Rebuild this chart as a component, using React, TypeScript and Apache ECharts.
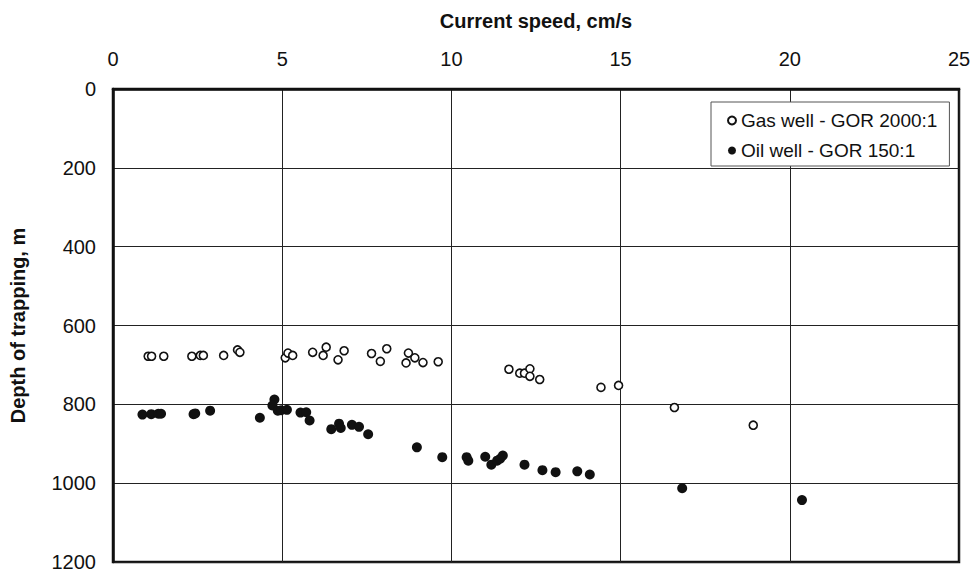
import React, { useEffect, useRef } from "react";
import * as echarts from "echarts";

const xTicks = [0, 5, 10, 15, 20, 25];
const yTicks = [0, 200, 400, 600, 800, 1000, 1200];

const gasSpeed = [1.04, 1.14, 1.5, 2.33, 2.58, 2.67, 3.27, 3.68, 3.75, 5.09, 5.17, 5.31, 5.9, 6.21, 6.3, 6.65, 6.83, 7.64, 7.9, 8.09, 8.66, 8.73, 8.92, 9.16, 9.61, 11.7, 12.02, 12.16, 12.32, 12.32, 12.61, 14.42, 14.94, 16.59, 18.92];
const gasDepth = [678, 678, 678, 678, 676, 676, 676, 662, 668, 682, 670, 676, 668, 676, 655, 687, 664, 671, 691, 659, 695, 670, 682, 694, 692, 711, 721, 721, 710, 729, 737, 757, 752, 808, 853];

const oilSpeed = [0.87, 1.13, 1.34, 1.42, 2.38, 2.43, 2.87, 4.34, 4.77, 4.71, 4.87, 4.97, 5.14, 5.54, 5.71, 5.81, 6.45, 6.68, 6.73, 7.06, 7.27, 7.54, 8.98, 9.73, 10.45, 10.5, 11.0, 11.18, 11.35, 11.44, 11.52, 12.16, 12.69, 13.08, 13.72, 14.09, 16.82, 20.36];
const oilDepth = [826, 825, 824, 824, 825, 823, 816, 834, 788, 803, 816, 815, 814, 821, 820, 841, 863, 849, 860, 852, 857, 876, 909, 934, 934, 943, 933, 953, 943, 938, 930, 953, 967, 972, 970, 978, 1013, 1043];

const gasName = "Gas well - GOR 2000:1";
const oilName = "Oil well - GOR 150:1";

export default function App() {
  const ref = useRef<HTMLDivElement>(null);
  useEffect(() => {
    if (!ref.current) return;
    const chart = echarts.init(ref.current, null, { renderer: "svg" });
    const font = "Liberation Sans, Arial, sans-serif";
    chart.setOption({
      animation: false,
      backgroundColor: "#ffffff",
      grid: { left: 108, top: 89, right: 18, bottom: 9, show: true, borderColor: "#111", borderWidth: 2.5, backgroundColor: "transparent" },
      xAxis: {
        type: "value",
        position: "top",
        min: xTicks[0],
        max: xTicks[xTicks.length - 1],
        interval: 5,
        name: "Current speed, cm/s",
        nameLocation: "middle",
        nameGap: 58,
        nameTextStyle: { fontFamily: font, fontSize: 20, fontWeight: "bold", color: "#111" },
        axisLine: { show: true, lineStyle: { color: "#111", width: 2.5 } },
        axisTick: { show: false },
        axisLabel: { margin: 20, fontFamily: font, fontSize: 20, color: "#111", formatter: (v: number) => String(v) },
        splitLine: { show: true, lineStyle: { color: "#222", width: 1 } },
      },
      yAxis: {
        type: "value",
        inverse: true,
        min: yTicks[0],
        max: yTicks[yTicks.length - 1],
        interval: 200,
        name: "Depth of trapping, m",
        nameLocation: "middle",
        nameGap: 85,
        nameTextStyle: { fontFamily: font, fontSize: 20, fontWeight: "bold", color: "#111" },
        axisLine: { show: true, lineStyle: { color: "#111", width: 2.5 } },
        axisTick: { show: false },
        axisLabel: { margin: 17, fontFamily: font, fontSize: 20, color: "#111", formatter: (v: number) => String(v) },
        splitLine: { show: true, lineStyle: { color: "#222", width: 1 } },
      },
      legend: {
        orient: "vertical",
        left: 711,
        top: 102,
        padding: [9, 12, 6, 16],
        itemGap: 11,
        itemWidth: 8,
        itemHeight: 8,
        backgroundColor: "#fff",
        borderColor: "#555",
        borderWidth: 1,
        textStyle: { fontFamily: font, fontSize: 19, color: "#111" },
        data: [
          { name: gasName, icon: "circle" },
          { name: oilName, icon: "circle" },
        ],
      },
      series: [
        {
          name: gasName,
          type: "scatter",
          symbol: "circle",
          symbolSize: 8,
          itemStyle: { color: "#fff", borderColor: "#111", borderWidth: 1.6, opacity: 1 },
          data: gasSpeed.map((x, i) => [x, gasDepth[i]]),
        },
        {
          name: oilName,
          type: "scatter",
          symbol: "circle",
          symbolSize: 10,
          itemStyle: { color: "#111", opacity: 1 },
          data: oilSpeed.map((x, i) => [x, oilDepth[i]]),
        },
      ],
    });
    return () => chart.dispose();
  }, []);
  return <div ref={ref} style={{ position: "fixed", left: 0, top: 0, width: 977, height: 572 }} />;
}
